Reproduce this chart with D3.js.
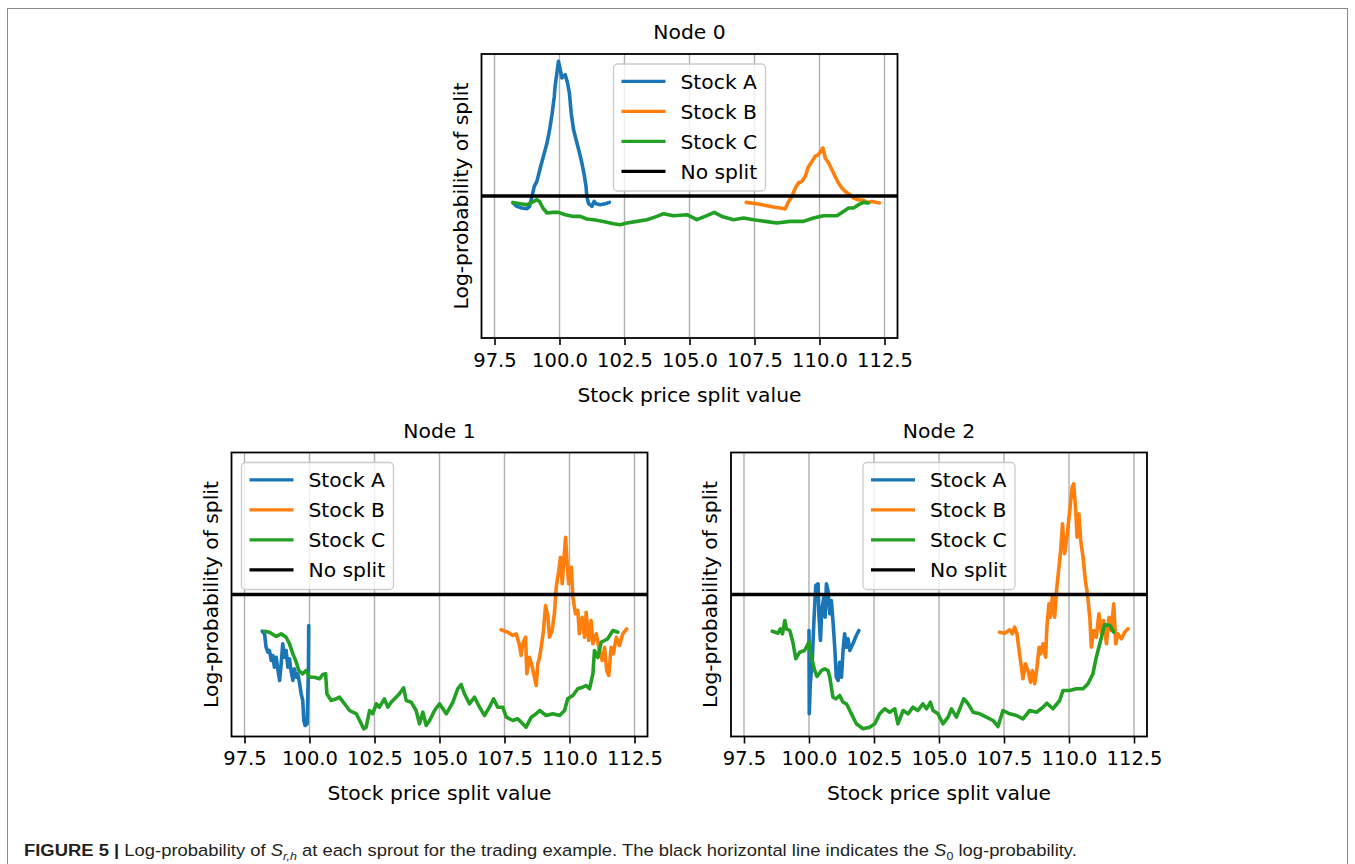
<!doctype html>
<html>
<head>
	<meta charset="UTF-8">
	<title>Figure 5 - Log-probability of split</title>
	<script src="https://d3js.org/d3.v7.min.js"></script>
	<style>
		body { margin: 0; background: #ffffff; }
		svg { display: block; }
	</style>
</head>
<body>
	<script>

		// Tick values shared by the three panels
		var xTicks = [97.5, 100.0, 102.5, 105.0, 107.5, 110.0, 112.5];

		// Legend entries and colours
		var seriesNames = ["Stock A", "Stock B", "Stock C", "No split"];
		var seriesColours = ["#1a76b6", "#ff7f0e", "#22a024", "#000000"];

		// Log-probability of the S0 tree (the "No split" line)
		var noSplitLevel = 0;

		// Node 0 : [split value, log-probability]
		var node0StockA = [[98.21,-0.70],[98.36,-1.04],[98.55,-1.20],[98.75,-1.27],[98.85,-1.04],[98.94,-0.04],[99.03,0.96],[99.13,1.46],[99.26,2.80],[99.38,3.96],[99.52,5.30],[99.62,6.63],[99.71,8.13],[99.80,9.96],[99.83,10.96],[99.90,12.30],[99.96,13.46],[100.03,12.63],[100.09,11.80],[100.22,12.13],[100.31,11.30],[100.38,10.30],[100.45,8.30],[100.54,6.63],[100.64,5.63],[100.77,4.30],[100.86,3.30],[100.95,2.13],[101.02,0.96],[101.05,-0.04],[101.12,-0.77],[101.25,-1.04],[101.33,-0.54],[101.41,-0.77],[101.57,-0.87],[101.76,-0.77],[101.92,-0.64]];
		var node0StockB = [[107.18,-0.64],[107.59,-0.77],[107.98,-0.97],[108.23,-1.10],[108.49,-1.20],[108.68,-1.30],[108.81,-0.54],[108.94,-0.04],[109.07,0.80],[109.19,1.30],[109.32,1.46],[109.45,1.96],[109.58,2.96],[109.71,3.46],[109.83,3.96],[109.96,4.13],[110.13,4.80],[110.22,3.80],[110.35,3.30],[110.48,2.63],[110.60,1.96],[110.73,1.30],[110.86,0.80],[110.99,0.46],[111.12,0.23],[111.31,-0.20],[111.50,-0.37],[111.69,-0.44],[111.82,-0.64],[112.02,-0.54],[112.31,-0.70]];
		var node0StockC = [[98.21,-0.64],[98.49,-0.77],[98.75,-0.87],[98.94,-0.64],[99.13,-0.37],[99.23,-0.54],[99.36,-1.20],[99.52,-1.70],[99.71,-1.64],[99.96,-1.64],[100.22,-1.87],[100.54,-2.04],[100.80,-2.04],[101.05,-2.30],[101.31,-2.37],[101.69,-2.54],[102.08,-2.77],[102.33,-2.87],[102.59,-2.70],[102.98,-2.54],[103.36,-2.37],[103.75,-2.04],[104.00,-1.77],[104.38,-1.97],[104.90,-1.87],[105.28,-2.37],[105.67,-1.97],[105.95,-1.64],[106.25,-2.04],[106.69,-2.37],[107.08,-2.20],[107.46,-2.37],[107.91,-2.54],[108.36,-2.70],[108.87,-2.54],[109.38,-2.54],[109.77,-2.20],[110.15,-1.97],[110.67,-1.97],[110.92,-1.54],[111.12,-1.20],[111.31,-1.20],[111.50,-0.87],[111.69,-0.64],[111.88,-0.70]];

		// Node 1
		var node1StockA = [[98.18,-3.67],[98.27,-3.93],[98.33,-5.27],[98.40,-5.77],[98.46,-5.60],[98.53,-6.60],[98.59,-6.10],[98.65,-7.27],[98.72,-6.27],[98.78,-7.43],[98.85,-8.60],[98.91,-6.93],[98.97,-4.93],[99.04,-6.27],[99.10,-5.60],[99.17,-7.27],[99.23,-6.43],[99.30,-7.77],[99.36,-8.60],[99.42,-7.43],[99.49,-8.27],[99.55,-7.93],[99.62,-8.93],[99.68,-9.93],[99.74,-10.60],[99.78,-12.60],[99.83,-13.10],[99.91,-12.93],[99.93,-10.60],[99.96,-7.27],[99.97,-3.10]];
		var node1StockB = [[107.37,-3.53],[107.63,-3.77],[107.82,-4.10],[107.95,-3.93],[108.08,-5.10],[108.14,-6.10],[108.20,-4.93],[108.31,-4.27],[108.36,-7.93],[108.46,-6.27],[108.57,-7.27],[108.65,-8.27],[108.72,-9.10],[108.78,-6.93],[108.85,-6.27],[108.91,-5.27],[109.00,-3.60],[109.08,-1.10],[109.17,-2.27],[109.23,-4.27],[109.33,-3.60],[109.42,-1.93],[109.49,0.73],[109.59,2.40],[109.65,3.73],[109.72,1.07],[109.77,3.07],[109.85,5.73],[109.90,3.40],[109.97,1.07],[110.07,2.73],[110.13,-0.27],[110.23,-1.93],[110.32,-1.60],[110.38,-3.93],[110.49,-2.27],[110.58,-4.27],[110.64,-1.77],[110.74,-4.60],[110.83,-2.60],[110.90,-4.93],[111.03,-3.93],[111.15,-5.60],[111.26,-6.60],[111.35,-5.27],[111.43,-7.60],[111.51,-8.10],[111.60,-5.27],[111.69,-5.93],[111.80,-4.27],[111.92,-5.10],[112.05,-3.93],[112.20,-3.43]];
		var node1StockC = [[98.27,-3.67],[98.46,-3.77],[98.72,-4.20],[98.91,-3.93],[99.10,-4.27],[99.23,-4.93],[99.36,-5.93],[99.49,-6.77],[99.59,-7.60],[99.74,-7.93],[99.87,-7.60],[100.00,-8.27],[100.19,-8.27],[100.38,-8.43],[100.51,-8.00],[100.62,-7.93],[100.67,-9.93],[100.83,-10.60],[101.03,-10.43],[101.15,-10.27],[101.35,-10.93],[101.54,-11.60],[101.80,-11.93],[101.99,-12.93],[102.09,-13.43],[102.18,-13.27],[102.31,-11.60],[102.43,-11.93],[102.57,-10.93],[102.69,-11.27],[102.88,-10.43],[103.01,-11.27],[103.14,-10.77],[103.33,-10.27],[103.46,-9.93],[103.62,-9.33],[103.72,-10.60],[103.91,-10.77],[104.10,-11.60],[104.23,-12.93],[104.36,-11.77],[104.49,-13.10],[104.62,-12.60],[104.81,-11.60],[105.00,-10.93],[105.26,-11.93],[105.51,-10.80],[105.70,-9.43],[105.83,-9.00],[105.96,-9.93],[106.15,-10.93],[106.35,-10.27],[106.54,-11.27],[106.73,-12.10],[106.92,-11.27],[107.08,-10.43],[107.24,-11.27],[107.43,-11.27],[107.57,-12.27],[107.82,-12.60],[108.01,-12.43],[108.20,-12.93],[108.33,-13.27],[108.53,-12.27],[108.72,-11.93],[108.85,-11.60],[109.10,-12.10],[109.36,-11.93],[109.62,-12.10],[109.81,-11.60],[109.93,-10.43],[110.13,-10.10],[110.32,-9.43],[110.51,-9.27],[110.64,-9.10],[110.77,-9.43],[110.90,-7.93],[110.96,-5.60],[111.09,-6.30],[111.22,-4.77],[111.35,-4.60],[111.47,-4.43],[111.67,-3.60],[111.86,-3.77]];

		// Node 2
		var node2StockA = [[100.00,-3.60],[100.01,-11.93],[100.05,-8.93],[100.13,-6.27],[100.19,-2.60],[100.26,0.90],[100.35,1.07],[100.38,-1.93],[100.44,-4.60],[100.49,-1.60],[100.57,-0.27],[100.62,-2.27],[100.67,1.07],[100.73,0.40],[100.80,-1.93],[100.86,-0.60],[100.92,-2.60],[100.99,-5.27],[101.05,-8.27],[101.12,-8.60],[101.18,-6.77],[101.25,-8.27],[101.31,-5.60],[101.37,-3.93],[101.44,-5.27],[101.50,-4.43],[101.57,-5.60],[101.69,-4.93],[101.82,-4.10],[101.92,-3.60]];
		var node2StockB = [[107.33,-3.77],[107.53,-3.87],[107.72,-3.53],[107.82,-3.93],[107.91,-3.27],[108.00,-3.93],[108.08,-5.60],[108.17,-7.27],[108.23,-8.43],[108.32,-6.93],[108.42,-7.60],[108.52,-8.77],[108.59,-7.60],[108.68,-8.93],[108.77,-7.27],[108.85,-5.27],[108.91,-5.93],[109.00,-4.93],[109.10,-6.27],[109.15,-3.27],[109.23,-0.93],[109.28,-2.27],[109.36,-0.27],[109.45,-2.27],[109.52,0.40],[109.60,2.40],[109.68,4.40],[109.75,7.07],[109.83,4.07],[109.92,5.73],[110.03,8.40],[110.12,10.73],[110.18,11.07],[110.26,8.40],[110.31,5.73],[110.38,8.07],[110.45,5.40],[110.54,3.73],[110.63,1.40],[110.71,0.07],[110.80,-2.27],[110.86,-5.27],[110.95,-3.60],[111.05,-4.27],[111.15,-1.93],[111.25,-3.93],[111.33,-2.60],[111.44,-4.93],[111.54,-2.27],[111.63,-3.60],[111.72,-0.93],[111.80,-4.93],[111.88,-3.93],[112.02,-4.43],[112.14,-3.77],[112.27,-3.43]];
		var node2StockC = [[98.59,-3.67],[98.81,-3.87],[98.90,-3.43],[98.98,-3.93],[99.07,-2.60],[99.13,-3.43],[99.26,-3.60],[99.38,-4.77],[99.49,-6.43],[99.64,-5.77],[99.83,-5.60],[100.00,-4.77],[100.09,-6.27],[100.22,-7.60],[100.31,-8.20],[100.48,-7.60],[100.60,-7.43],[100.73,-7.60],[100.80,-8.27],[100.92,-10.27],[101.03,-10.43],[101.18,-10.10],[101.31,-10.77],[101.44,-10.93],[101.63,-11.93],[101.82,-12.93],[102.08,-13.43],[102.33,-13.27],[102.53,-12.93],[102.72,-11.93],[102.91,-11.43],[103.10,-11.77],[103.30,-11.43],[103.42,-12.93],[103.62,-11.60],[103.81,-11.93],[104.00,-11.27],[104.19,-11.60],[104.38,-10.93],[104.52,-11.43],[104.67,-10.77],[104.77,-11.60],[104.96,-11.93],[105.15,-12.93],[105.35,-12.27],[105.48,-11.43],[105.67,-12.27],[105.80,-11.43],[105.95,-10.43],[106.12,-10.93],[106.31,-11.77],[106.57,-11.93],[106.82,-12.27],[107.08,-12.60],[107.27,-13.20],[107.46,-11.60],[107.72,-11.93],[107.98,-12.10],[108.23,-12.43],[108.49,-11.60],[108.75,-11.77],[109.00,-11.27],[109.15,-10.87],[109.38,-11.43],[109.64,-10.60],[109.77,-9.60],[110.03,-9.60],[110.28,-9.43],[110.54,-9.43],[110.73,-8.93],[110.92,-7.93],[111.05,-6.27],[111.15,-5.27],[111.25,-4.27],[111.37,-3.00],[111.57,-3.10],[111.72,-3.77]];

		// Panel layout (positions in page pixels)
		var panels = [
			{title: "Node 0", left: 481.5, top: 54,    legend: "center", series: [node0StockA, node0StockB, node0StockC]},
			{title: "Node 1", left: 231.5, top: 452.5, legend: "left",   series: [node1StockA, node1StockB, node1StockC]},
			{title: "Node 2", left: 731,   top: 452.5, legend: "center", series: [node2StockA, node2StockB, node2StockC]}
		];

		var width = 416, height = 284;
		var font = "'DejaVu Sans', sans-serif";

		// Scales shared by every panel
		var x = d3.scaleLinear().domain([97.0, 113.0]).range([0, width]);
		var y = d3.scaleLinear().domain([-14.2, 14.2]).range([height, 0]);

		var valueline = d3.line()
			.x(function(d) { return x(d[0]); })
			.y(function(d) { return y(d[1]); });

		var svg = d3.select("body")
			.append("svg")
				.attr("width", 1355)
				.attr("height", 864);

		// Grey frame round the figure
		svg.append("rect")
			.attr("x", 7.5)
			.attr("y", 8.5)
			.attr("width", 1340)
			.attr("height", 900)
			.attr("fill", "none")
			.attr("stroke", "#8a8a8a")
			.attr("stroke-width", 1);

		panels.forEach(function(p, i) {
			var g = svg.append("g")
				.attr("transform", "translate(" + p.left + "," + p.top + ")");

			g.append("clipPath")
				.attr("id", "clip" + i)
				.append("rect")
					.attr("width", width)
					.attr("height", height);

			// Vertical grid lines
			g.selectAll(".grid")
				.data(xTicks)
				.enter().append("line")
					.attr("class", "grid")
					.attr("x1", function(d) { return x(d); })
					.attr("x2", function(d) { return x(d); })
					.attr("y1", 0)
					.attr("y2", height)
					.attr("stroke", "#b0b0b0")
					.attr("stroke-width", 1.4);

			// Bottom axis
			var xAxis = d3.axisBottom(x)
				.tickValues(xTicks)
				.tickFormat(d3.format(".1f"))
				.tickSize(7)
				.tickSizeOuter(0);

			var ax = g.append("g")
				.attr("transform", "translate(0," + height + ")")
				.call(xAxis);
			ax.select(".domain").remove();
			ax.selectAll(".tick line")
				.attr("stroke", "#000")
				.attr("stroke-width", 1.6);
			ax.selectAll(".tick text")
				.attr("y", 28.5)
				.attr("dy", 0)
				.attr("fill", "#000")
				.style("font-family", font)
				.style("font-size", "19.5px");

			// Stock curves
			var lines = g.append("g").attr("clip-path", "url(#clip" + i + ")");
			p.series.forEach(function(s, k) {
				lines.append("path")
					.datum(s)
					.attr("d", valueline)
					.attr("fill", "none")
					.attr("stroke", seriesColours[k])
					.attr("stroke-width", 3.6)
					.attr("stroke-linejoin", "round")
					.attr("stroke-linecap", "round");
			});

			// No split line
			lines.append("line")
				.attr("x1", 0)
				.attr("x2", width)
				.attr("y1", y(noSplitLevel))
				.attr("y2", y(noSplitLevel))
				.attr("stroke", "#000")
				.attr("stroke-width", 3.3);

			// Axes frame
			g.append("rect")
				.attr("width", width)
				.attr("height", height)
				.attr("fill", "none")
				.attr("stroke", "#000")
				.attr("stroke-width", 1.8);

			// Title and axis labels
			g.append("text")
				.attr("x", width / 2)
				.attr("y", -14.7)
				.style("text-anchor", "middle")
				.style("font-family", font)
				.style("font-size", "20.3px")
				.text(p.title);

			g.append("text")
				.attr("x", width / 2)
				.attr("y", height + 63.5)
				.style("text-anchor", "middle")
				.style("font-family", font)
				.style("font-size", "20.3px")
				.text("Stock price split value");

			g.append("text")
				.attr("transform", "translate(-14," + (height / 2) + ") rotate(-90)")
				.style("text-anchor", "middle")
				.style("font-family", font)
				.style("font-size", "20.3px")
				.text("Log-probability of split");

			// Legend
			var lw = 152, lh = 127;
			var lx = p.legend == "center" ? (width - lw) / 2 : 10;
			var leg = g.append("g").attr("transform", "translate(" + lx + ",10)");
			leg.append("rect")
				.attr("width", lw)
				.attr("height", lh)
				.attr("rx", 4)
				.attr("fill", "#ffffff")
				.attr("fill-opacity", 0.8)
				.attr("stroke", "#cccccc")
				.attr("stroke-width", 1.3);
			seriesNames.forEach(function(name, k) {
				var ly = 17.3 + k * 30;
				leg.append("line")
					.attr("x1", 8)
					.attr("x2", 52)
					.attr("y1", ly)
					.attr("y2", ly)
					.attr("stroke", seriesColours[k])
					.attr("stroke-width", 3.3);
				leg.append("text")
					.attr("x", 67)
					.attr("y", ly + 7.3)
					.style("font-family", font)
					.style("font-size", "20.3px")
					.text(name);
			});
		});

		// Caption, squeezed to the width of the printed one
		var cap = svg.append("text")
			.attr("x", 0)
			.attr("y", 0)
			.attr("fill", "#231f20")
			.style("font-family", "'Liberation Sans Narrow', 'Liberation Sans', Arial, sans-serif")
			.style("font-size", "17px");
		cap.append("tspan").style("font-weight", "bold").text("FIGURE 5 | ");
		cap.append("tspan").text("Log-probability of ");
		cap.append("tspan").style("font-style", "italic").text("S");
		cap.append("tspan").style("font-style", "italic").style("font-size", "11.5px").attr("dy", 4).text("r,h");
		cap.append("tspan").attr("dy", -4).text(" at each sprout for the trading example. The black horizontal line indicates the ");
		cap.append("tspan").style("font-style", "italic").text("S");
		cap.append("tspan").style("font-size", "11.5px").attr("dy", 4).text("0");
		cap.append("tspan").attr("dy", -4).text(" log-probability.");

		var capWidth = cap.node().getBBox().width;
		cap.attr("transform", "translate(24,856) scale(" + (1053 / capWidth) + ",1)");

	</script>
</body>
</html>
